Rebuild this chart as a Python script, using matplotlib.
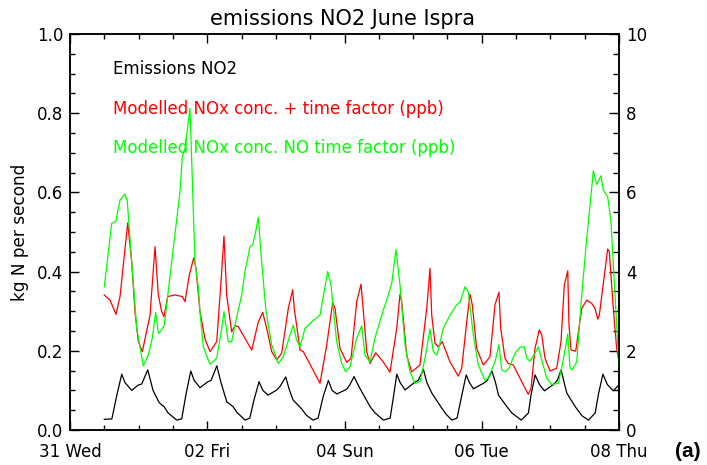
import matplotlib
matplotlib.use("Agg")
import matplotlib.pyplot as plt
from matplotlib.ticker import MultipleLocator, FixedLocator

# ---- data (time in days since 31 May 00:00) ----
emis_t = [0.50, 0.61, 0.685, 0.754, 0.80, 0.90, 0.99, 1.045, 1.133, 1.21, 1.30, 1.37, 1.43, 1.555,
          1.628, 1.69, 1.76, 1.81, 1.895, 2.01, 2.055, 2.14, 2.20, 2.285, 2.376, 2.43, 2.55, 2.62,
          2.68, 2.755, 2.81, 2.886, 3.013, 3.06, 3.144, 3.19, 3.25, 3.377, 3.44, 3.54, 3.615, 3.69,
          3.765, 3.82, 3.888, 4.033, 4.08, 4.14, 4.18, 4.25, 4.373, 4.446, 4.567, 4.665, 4.71,
          4.762, 4.81, 4.883, 5.004, 5.077, 5.15, 5.20, 5.273, 5.418, 5.48, 5.564, 5.64, 5.70,
          5.773, 5.82, 5.879, 6.025, 6.08, 6.147, 6.20, 6.244, 6.366, 6.439, 6.574, 6.68, 6.72,
          6.778, 6.84, 6.914, 7.045, 7.10, 7.157, 7.20, 7.24, 7.362, 7.46, 7.555, 7.653, 7.70,
          7.765, 7.83, 7.915, 8.00]
emis_v = [0.027, 0.028, 0.090, 0.141, 0.120, 0.100, 0.113, 0.116, 0.152, 0.100, 0.069, 0.059, 0.043, 0.025,
          0.028, 0.090, 0.149, 0.125, 0.107, 0.122, 0.125, 0.162, 0.120, 0.071, 0.059, 0.045, 0.025, 0.030,
          0.075, 0.122, 0.100, 0.088, 0.101, 0.110, 0.134, 0.105, 0.076, 0.053, 0.038, 0.025, 0.030, 0.085,
          0.125, 0.100, 0.091, 0.103, 0.115, 0.135, 0.120, 0.097, 0.059, 0.043, 0.025, 0.030, 0.080,
          0.141, 0.120, 0.101, 0.118, 0.126, 0.153, 0.120, 0.093, 0.055, 0.040, 0.025, 0.030, 0.080,
          0.139, 0.120, 0.104, 0.118, 0.125, 0.149, 0.120, 0.088, 0.059, 0.043, 0.025, 0.043, 0.090,
          0.139, 0.115, 0.099, 0.115, 0.125, 0.152, 0.120, 0.093, 0.059, 0.036, 0.025, 0.043, 0.090,
          0.141, 0.115, 0.099, 0.114]

tf_t = [0.500, 0.583, 0.670, 0.729, 0.841, 0.899, 0.947, 0.996, 1.054, 1.166, 1.239, 1.287, 1.336, 1.370,
        1.424, 1.530, 1.636, 1.676, 1.738, 1.803, 1.836, 1.894, 1.967, 2.040, 2.138, 2.200, 2.244,
        2.283, 2.356, 2.404, 2.452, 2.648, 2.744, 2.808, 2.866, 2.939, 3.012, 3.085, 3.181, 3.245,
        3.268, 3.352, 3.400, 3.643, 3.741, 3.828, 3.862, 3.934, 4.032, 4.095, 4.178, 4.240, 4.259,
        4.324, 4.372, 4.455, 4.565, 4.663, 4.761, 4.809, 4.834, 4.906, 4.979, 5.100, 5.198, 5.246,
        5.271, 5.319, 5.367, 5.425, 5.537, 5.658, 5.708, 5.781, 5.829, 5.862, 5.926, 6.023, 6.120,
        6.193, 6.251, 6.276, 6.339, 6.387, 6.460, 6.582, 6.678, 6.718, 6.776, 6.839, 6.874, 6.922,
        6.995, 7.092, 7.155, 7.203, 7.253, 7.271, 7.301, 7.369, 7.457, 7.530, 7.602, 7.650, 7.690,
        7.713, 7.835, 7.859, 7.917, 7.966, 8.000]
tf_v = [3.41, 3.28, 2.92, 3.37, 5.23, 4.25, 2.99, 2.23, 1.98, 2.90, 4.63, 3.41, 2.99, 2.86,
        3.37, 3.41, 3.37, 3.24, 3.91, 4.35, 4.08, 2.99, 2.30, 1.98, 2.23, 3.74, 4.90,
        3.41, 2.48, 2.63, 2.61, 2.02, 2.73, 2.97, 2.57, 1.98, 1.77, 1.94, 3.07, 3.54,
        3.07, 2.02, 1.98, 1.18, 2.15, 3.22, 3.07, 2.06, 1.71, 1.81, 3.24, 3.68, 3.33,
        1.98, 1.68, 1.95, 1.72, 1.46, 2.57, 3.43, 3.24, 1.89, 1.47, 1.64, 3.07, 4.08,
        2.90, 2.19, 2.10, 2.23, 1.72, 1.36, 1.56, 2.73, 3.43, 3.16, 2.06, 1.64, 1.85,
        3.16, 3.48, 2.57, 1.81, 1.68, 1.64, 1.22, 0.90, 1.05, 2.06, 2.53, 2.40, 1.81,
        1.49, 1.56, 2.23, 3.66, 4.02, 2.65, 2.02, 1.99, 3.07, 3.28, 3.20, 3.07, 2.80,
        2.90, 4.57, 4.50, 3.07, 2.06, 1.72]

notf_t = [0.500, 0.608, 0.666, 0.729, 0.801, 0.835, 0.899, 0.972, 1.068, 1.141, 1.199, 1.249, 1.287,
          1.326, 1.374, 1.482, 1.603, 1.636, 1.676, 1.749, 1.821, 1.870, 1.894, 1.942, 2.040, 2.138,
          2.211, 2.244, 2.307, 2.356, 2.404, 2.502, 2.550, 2.623, 2.662, 2.696, 2.744, 2.793, 2.852,
          2.890, 2.939, 3.035, 3.108, 3.206, 3.254, 3.303, 3.352, 3.424, 3.522, 3.643, 3.716, 3.755,
          3.803, 3.886, 3.959, 4.017, 4.080, 4.178, 4.251, 4.299, 4.372, 4.444, 4.542, 4.638, 4.688,
          4.750, 4.809, 4.882, 4.954, 5.027, 5.100, 5.173, 5.246, 5.294, 5.344, 5.367, 5.440, 5.537,
          5.635, 5.683, 5.756, 5.804, 5.877, 5.950, 6.047, 6.095, 6.193, 6.251, 6.291, 6.339, 6.397,
          6.485, 6.557, 6.620, 6.655, 6.703, 6.776, 6.824, 6.882, 6.947, 7.019, 7.116, 7.174, 7.253,
          7.286, 7.320, 7.384, 7.457, 7.530, 7.592, 7.626, 7.675, 7.738, 7.771, 7.835, 7.883, 7.942,
          8.000]
notf_v = [3.62, 5.22, 5.26, 5.81, 5.96, 5.77, 4.25, 2.57, 1.62, 1.89, 2.32, 2.97, 2.44,
          2.50, 2.65, 4.25, 6.02, 6.90, 7.11, 8.12, 4.25, 3.59, 2.99, 2.10, 1.66, 1.81,
          2.57, 2.99, 2.23, 2.23, 2.65, 3.41, 4.00, 4.63, 4.67, 4.92, 5.37, 4.25, 3.07,
          2.65, 2.15, 1.68, 1.85, 2.40, 2.65, 2.27, 2.10, 2.57, 2.73, 2.90, 3.62, 4.00,
          3.66, 2.23, 1.68, 1.47, 1.60, 2.32, 2.63, 1.89, 1.72, 2.32, 2.90, 3.41, 3.70,
          4.56, 3.66, 2.15, 1.47, 1.18, 1.22, 1.81, 2.55, 1.98, 1.89, 2.02, 2.57, 2.90,
          3.16, 3.22, 3.62, 3.49, 2.40, 1.64, 1.26, 1.31, 1.72, 2.16, 1.52, 1.47, 1.56,
          1.94, 2.09, 2.10, 1.81, 1.74, 1.94, 2.10, 1.72, 1.31, 1.15, 1.18, 1.64, 2.42,
          1.56, 1.52, 1.72, 3.41, 4.84, 5.93, 6.55, 6.20, 6.42, 6.06, 5.89, 5.26, 3.41,
          1.60]

xtick_pos = [0, 2, 4, 6, 8]
xtick_labels = ["31 Wed", "02 Fri", "04 Sun", "06 Tue", "08 Thu"]
title = "emissions NO2 June Ispra"
ylabel = "kg N per second"
legend_labels = ["Emissions NO2",
                 "Modelled NOx conc. + time factor (ppb)",
                 "Modelled NOx conc. NO time factor (ppb)"]
colors = ["#000000", "#ff0000", "#00ff00"]

plt.rcParams['font.family'] = ['DejaVu Sans']

W, H = 707, 465
fig = plt.figure(figsize=(W / 100, H / 100), dpi=100)
L, R, T, B = 70, 619, 34, 430
ax = fig.add_axes([L / W, 1 - B / H, (R - L) / W, (B - T) / H])
ax2 = ax.twinx()

ax.plot(emis_t, emis_v, color=colors[0], lw=0.9)
ax2.plot(tf_t, tf_v, color=colors[1], lw=0.9)
ax2.plot(notf_t, notf_v, color=colors[2], lw=0.9)

ax.set_xlim(0, 8)
ax.set_ylim(0, 1.0)
ax2.set_ylim(0, 10)

ax.xaxis.set_major_locator(FixedLocator(xtick_pos))
ax.set_xticklabels(xtick_labels)
ax.xaxis.set_minor_locator(MultipleLocator(0.5))
ax.yaxis.set_major_locator(MultipleLocator(0.2))
ax.yaxis.set_minor_locator(MultipleLocator(0.05))
ax.yaxis.set_major_formatter(matplotlib.ticker.FormatStrFormatter("%.1f"))
ax2.yaxis.set_major_locator(MultipleLocator(2))
ax2.yaxis.set_minor_locator(MultipleLocator(0.5))
ax2.yaxis.set_major_formatter(matplotlib.ticker.FormatStrFormatter("%d"))

fs = 12
ax.tick_params(axis='both', which='both', direction='in', top=True, right=False, width=1.0,
               labelsize=fs, colors='black')
ax.tick_params(axis='both', which='major', length=6.5)
ax.tick_params(axis='both', which='minor', length=3.5)
ax.tick_params(axis='x', which='major', pad=9)
ax.tick_params(axis='y', which='major', pad=5)
ax2.tick_params(axis='y', which='both', direction='in', width=1.0, labelsize=fs)
ax2.tick_params(axis='y', which='major', length=7, pad=5)
ax2.tick_params(axis='y', which='minor', length=4)
for a in (ax, ax2):
    for s in a.spines.values():
        s.set_linewidth(1.1)

fig.text(343 / W, 1 - 19 / H, title, ha='center', va='center', fontsize=15)
fig.text(20.5 / W, 1 - 232 / H, ylabel, ha='center', va='center', rotation=90, fontsize=12.2)

lx = (113 - L) / (R - L)
for lab, col, yp in zip(legend_labels, colors, [69, 109, 148]):
    ax.text(lx, 1 - (yp - T) / (B - T), lab, color=col, fontsize=12, ha='left', va='center',
            transform=ax.transAxes)

fig.text(688 / W, 1 - 451 / H, "(a)", ha='center', va='center', fontsize=15, fontweight='bold',
         family='Liberation Sans')

fig.savefig("out.png", dpi=100)
